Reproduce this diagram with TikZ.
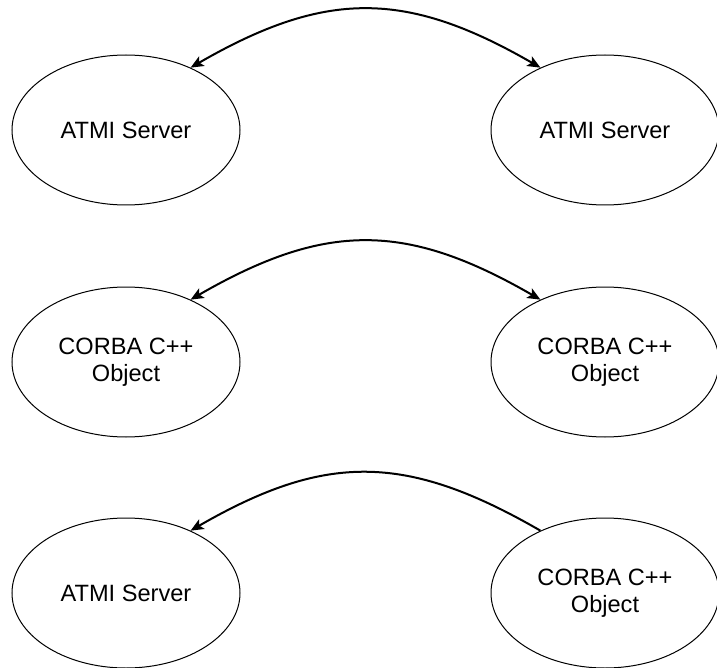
\documentclass[tikz,border=0pt]{standalone}
\usepackage{fontspec}
\setmainfont{Liberation Sans}
\usetikzlibrary{shapes.geometric,arrows.meta}
\begin{document}
\begin{tikzpicture}[x=1pt,y=1pt,
  ell/.style={ellipse, draw, line width=1pt, minimum width=228pt, minimum height=150pt,
    inner sep=0pt, align=center, font=\fontsize{23.6}{27}\selectfont},
  link/.style={line width=2pt, looseness=1.14},
  >={Stealth[length=13pt,width=11pt,inset=3pt]}]
\useasboundingbox (0,0) rectangle (717,-668);
\node[ell] (a1) at (126,-130) {ATMI Server};
\node[ell] (b1) at (605,-130) {ATMI Server};
\node[ell] (a2) at (126,-362) {CORBA C++\\Object};
\node[ell] (b2) at (605,-362) {CORBA C++\\Object};
\node[ell] (a3) at (126,-593) {ATMI Server};
\node[ell] (b3) at (605,-593) {CORBA C++\\Object};
\draw[link,<->] (a1.44) to[out=30,in=150] (b1.136);
\draw[link,<->] (a2.44) to[out=30,in=150] (b2.136);
\draw[link,->] (b3.136) to[out=150,in=30] (a3.44);
\end{tikzpicture}
\end{document}
